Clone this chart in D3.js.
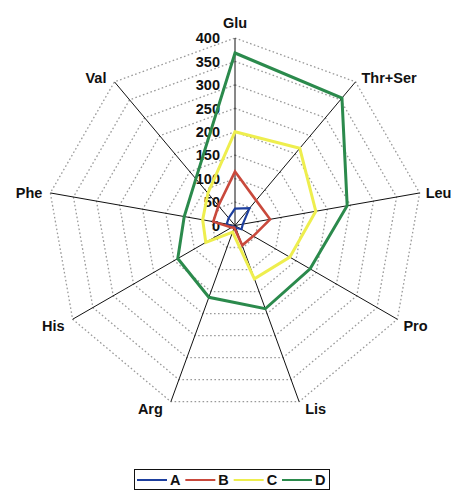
<!DOCTYPE html>
<html>
<head>
<meta charset="utf-8">
<script src="https://cdn.jsdelivr.net/npm/d3@7"></script>
<style>
  html, body { margin: 0; padding: 0; background: #fff; }
  svg { display: block; }
  text { font-family: "Liberation Sans", Arial, sans-serif; font-weight: bold; fill: #111; }
</style>
</head>
<body>
<svg id="chart" width="456" height="491"></svg>
<script>
// Amino-acid axes, clockwise from the top
const axes = ["Glu", "Thr+Ser", "Leu", "Pro", "Lis", "Arg", "His", "Phe", "Val"];
const seriesNames = ["A", "B", "C", "D"];
const valuesA = [36, 48, 17, 16, 5, 3, 5, 18, 21];
const valuesB = [115, 70, 76, 45, 45, 5, 8, 47, 55];
const valuesC = [200, 215, 175, 135, 121, 15, 72, 70, 90];
const valuesD = [368, 355, 243, 185, 189, 163, 141, 110, 130];
const tickValues = [0, 50, 100, 150, 200, 250, 300, 350, 400];
const seriesColors = ["#1d3f9e", "#c9493c", "#eeee4e", "#2b8a4c"];

const svg = d3.select("#chart");
const cx = 235, cy = 225.5, R = 187.5;

const r = d3.scaleLinear().domain([0, 400]).range([0, R]);
const angle = d3.scalePoint().domain(axes).range([0, 2 * Math.PI * (axes.length - 1) / axes.length]);

const pt = (name, v) => {
  const a = angle(name);
  return [cx + r(v) * Math.sin(a), cy - r(v) * Math.cos(a)];
};

// dotted ring grid
const grid = svg.append("g");
tickValues.filter(t => t > 0).forEach(t => {
  grid.append("path")
    .attr("d", d3.line()(axes.map(n => pt(n, t))) + "Z")
    .attr("fill", "none")
    .attr("stroke", "#9a9a9a")
    .attr("stroke-width", 1.3)
    .attr("stroke-dasharray", "1.6,2.4");
});

// spokes
const spokes = svg.append("g");
axes.forEach(n => {
  const [x, y] = pt(n, 400);
  spokes.append("line")
    .attr("x1", cx).attr("y1", cy).attr("x2", x).attr("y2", y)
    .attr("stroke", "#111").attr("stroke-width", 1);
});

// radial tick labels along the first spoke
svg.append("g").selectAll("text")
  .data(tickValues)
  .join("text")
  .attr("x", cx - 15)
  .attr("y", d => cy - r(d))
  .attr("dy", "0.36em")
  .attr("text-anchor", "end")
  .attr("font-size", 14.5)
  .text(d => d);

// axis labels
svg.append("g").selectAll("text")
  .data(axes)
  .join("text")
  .attr("font-size", 14.5)
  .attr("text-anchor", n => {
    const s = Math.sin(angle(n));
    return s > 0.1 ? "start" : s < -0.1 ? "end" : "middle";
  })
  .attr("x", n => {
    const [x] = pt(n, 400);
    const s = Math.sin(angle(n));
    return x + (s > 0.1 ? 6 : s < -0.1 ? -8 : 0);
  })
  .attr("y", n => {
    const [, y] = pt(n, 400);
    const c = Math.cos(angle(n));
    if (c > 0.9) return y - 15;
    if (c > 0.5) return y - 4;
    if (c < -0.3) return y + 7;
    return y;
  })
  .attr("dy", "0.36em")
  .text(n => n);

// series polygons
const allValues = [valuesA, valuesB, valuesC, valuesD];
const widths = [2.2, 2.6, 3, 3];
svg.append("g").selectAll("path")
  .data(allValues)
  .join("path")
  .attr("d", vals => d3.line()(axes.map((n, i) => pt(n, vals[i]))) + "Z")
  .attr("fill", "none")
  .attr("stroke", (d, i) => seriesColors[i])
  .attr("stroke-width", (d, i) => widths[i])
  .attr("stroke-linejoin", "miter");

// legend
const lg = svg.append("g");
lg.append("rect")
  .attr("x", 134.5).attr("y", 469.5).attr("width", 195).attr("height", 20)
  .attr("fill", "#fff").attr("stroke", "#111").attr("stroke-width", 1);
const legendX = d3.scalePoint().domain(seriesNames).range([137, 282]);
seriesNames.forEach((s, i) => {
  const x0 = legendX(s);
  lg.append("line")
    .attr("x1", x0).attr("x2", x0 + 30).attr("y1", 480).attr("y2", 480)
    .attr("stroke", seriesColors[i]).attr("stroke-width", 2);
  lg.append("text")
    .attr("x", x0 + 33).attr("y", 480).attr("dy", "0.36em")
    .attr("font-size", 14.5)
    .text(s);
});
</script>
</body>
</html>
